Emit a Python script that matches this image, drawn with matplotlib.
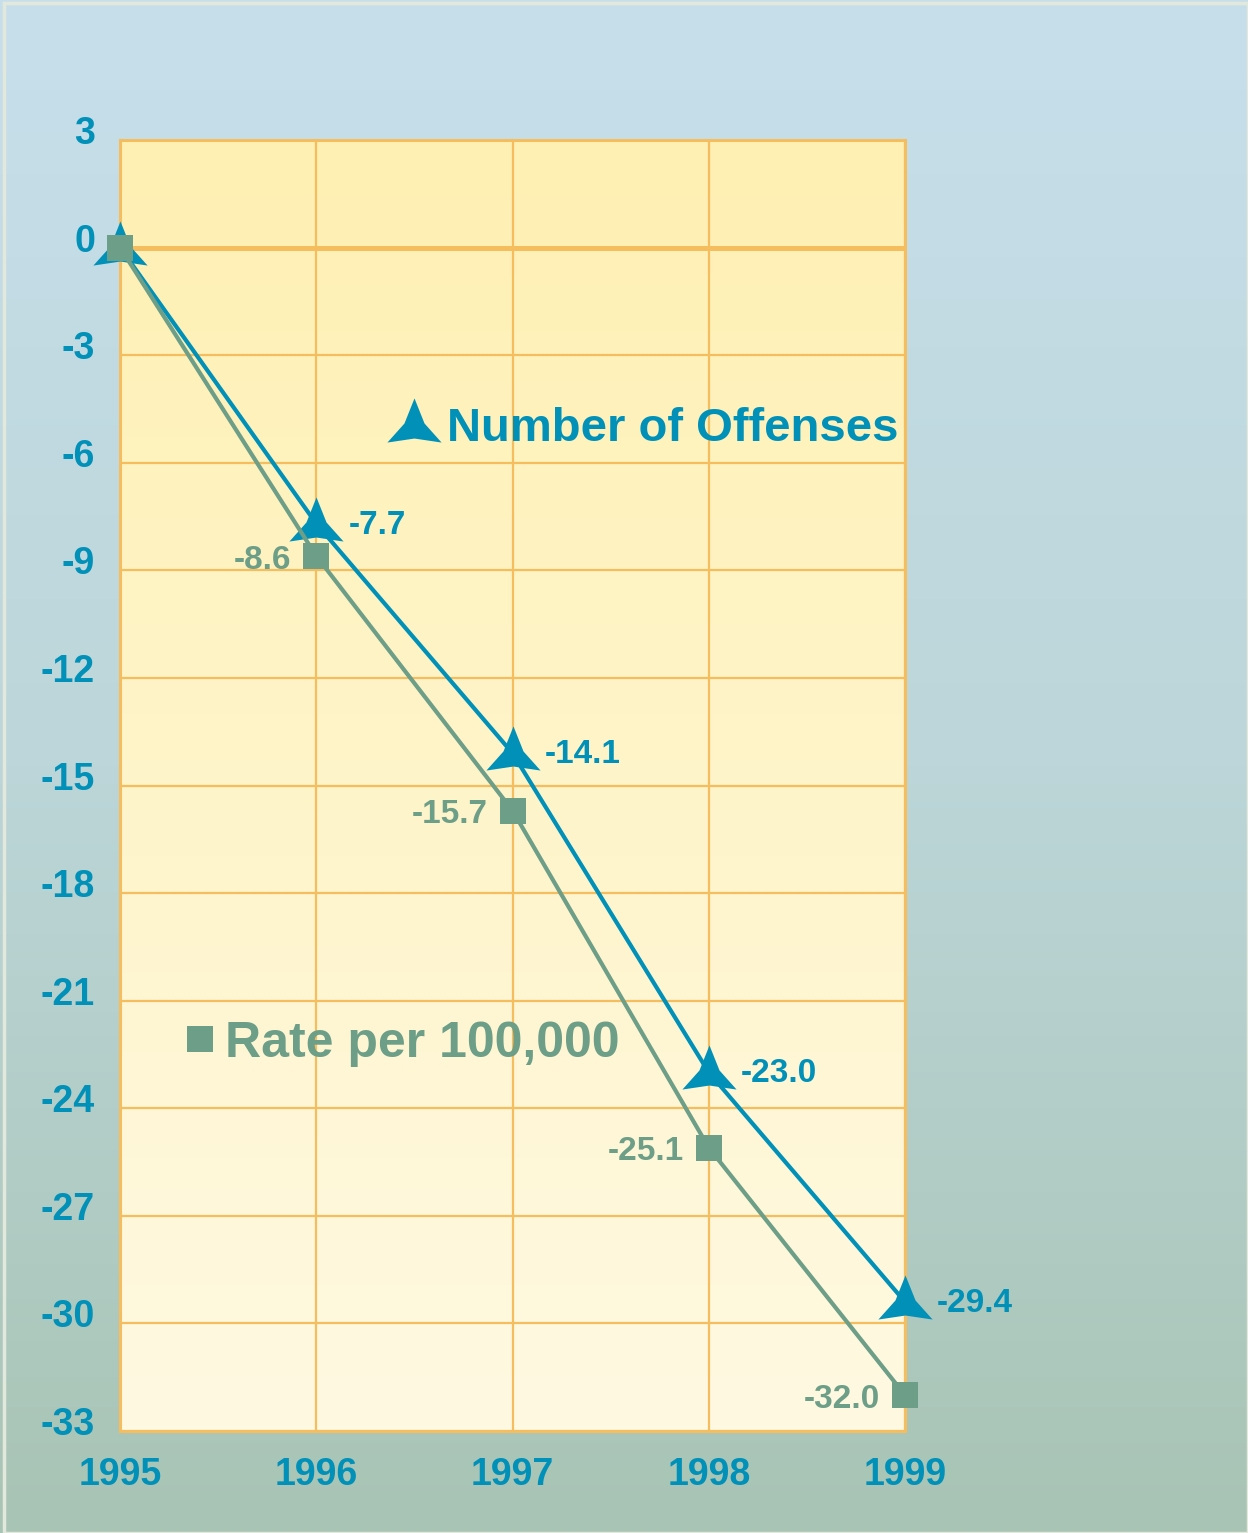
import numpy as np
import matplotlib
matplotlib.use("Agg")
import matplotlib.pyplot as plt
from matplotlib.path import Path
from matplotlib.lines import Line2D
from matplotlib.colors import LinearSegmentedColormap
from matplotlib.transforms import ScaledTranslation

plt.rcParams["font.family"] = ["Liberation Sans", "DejaVu Sans"]
plt.rcParams["font.weight"] = "bold"
plt.rcParams["axes.unicode_minus"] = False

# data (percent change since 1995)
years = [1995, 1996, 1997, 1998, 1999]
offenses = [0, -7.7, -14.1, -23.0, -29.4]
rate = [0, -8.6, -15.7, -25.1, -32.0]
offense_labels = ["", "-7.7", "-14.1", "-23.0", "-29.4"]
rate_labels = ["", "-8.6", "-15.7", "-25.1", "-32.0"]
y_ticks = list(range(3, -34, -3))

BLUE = "#0090b8"
GREEN = "#6d9e87"
ORANGE = "#f6bd5e"

# dart-shaped triangle marker
dart = Path([(0, 27), (10, 2), (27, -17), (0, -13), (-27, -17), (-10, 2), (0, 27)],
            [Path.MOVETO] + [Path.LINETO] * 5 + [Path.CLOSEPOLY])
DART_SIZE = 39

fig = plt.figure(figsize=(12.48, 15.33), dpi=100)

# figure background gradient
bg = fig.add_axes([0, 0, 1, 1], zorder=-10)
bg_cmap = LinearSegmentedColormap.from_list("bg", ["#c7dfeb", "#bcd6d9", "#a8c4b4"])
bg.imshow(np.linspace(0, 1, 256).reshape(-1, 1), aspect="auto", cmap=bg_cmap,
          extent=[0, 1, 0, 1], origin="upper")
bg.add_patch(plt.Rectangle((0.003, 0.0), 0.997, 0.998, fill=False,
                           edgecolor="#e2e8dc", linewidth=2.5))
bg.set_xlim(0, 1)
bg.set_ylim(0, 1)
bg.axis("off")

ax = fig.add_axes([0.0962, 0.0665, 0.6290, 0.8422])
ax.set_facecolor("none")
ax.set_xlim(1995, 1999)
ax.set_ylim(-33, 3)

pa_cmap = LinearSegmentedColormap.from_list("pa", ["#fff0b2", "#fef9e2"])
ax.imshow(np.linspace(0, 1, 256).reshape(-1, 1), aspect="auto", cmap=pa_cmap,
          extent=[1995, 1999, -33, 3], origin="upper", zorder=0)

ax.set_xticks(years)
ax.set_yticks(y_ticks)
ax.grid(True, color=ORANGE, linewidth=1.6, zorder=1)
ax.axhline(0, color=ORANGE, linewidth=3.6, zorder=1.5)
for s in ax.spines.values():
    s.set_color(ORANGE)
    s.set_linewidth(2.2)
ax.tick_params(length=0, labelcolor=BLUE, labelsize=27)
ax.tick_params(axis="x", pad=19)
ax.tick_params(axis="y", pad=18)
for t in ax.get_xticklabels():
    t.set_fontweight("bold")
for t in ax.get_yticklabels():
    t.set_fontweight("bold")
    t.set_verticalalignment("baseline")
    t.set_transform(t.get_transform() + ScaledTranslation(0, -0.04, fig.dpi_scale_trans))

ax.plot(years, offenses, color=BLUE, linewidth=3, marker=dart, markersize=DART_SIZE,
        markeredgewidth=0, clip_on=False, zorder=3)
ax.plot(years, rate, color=GREEN, linewidth=3, marker="s", markersize=18.5,
        markeredgewidth=0, clip_on=False, zorder=4)

for x, y, lab in zip(years, offenses, offense_labels):
    if lab:
        ax.annotate(lab, (x, y), xytext=(23, -1), textcoords="offset points",
                    color=BLUE, fontsize=24, fontweight="bold", va="center", ha="left")
for x, y, lab in zip(years, rate, rate_labels):
    if lab:
        ax.annotate(lab, (x, y), xytext=(-18, -3), textcoords="offset points",
                    color=GREEN, fontsize=24, fontweight="bold", va="center", ha="right")

h1 = Line2D([], [], linestyle="none", marker=dart, markersize=DART_SIZE, color=BLUE, markeredgewidth=0)
h2 = Line2D([], [], linestyle="none", marker="s", markersize=18.5, color=GREEN, markeredgewidth=0)
leg1 = ax.legend([h1], ["Number of Offenses"], loc="center left", bbox_to_anchor=(0.29, 0.776),
                 frameon=False, handlelength=1.0, handletextpad=0.2,
                 prop={"size": 34, "weight": "bold"})
leg1.get_texts()[0].set_color(BLUE)
ax.add_artist(leg1)
leg2 = ax.legend([h2], ["Rate per 100,000"], loc="center left", bbox_to_anchor=(0.025, 0.3),
                 frameon=False, handlelength=0.6, handletextpad=0.2,
                 prop={"size": 36, "weight": "bold"})
leg2.get_texts()[0].set_color(GREEN)

fig.savefig("out.png", dpi=100)
